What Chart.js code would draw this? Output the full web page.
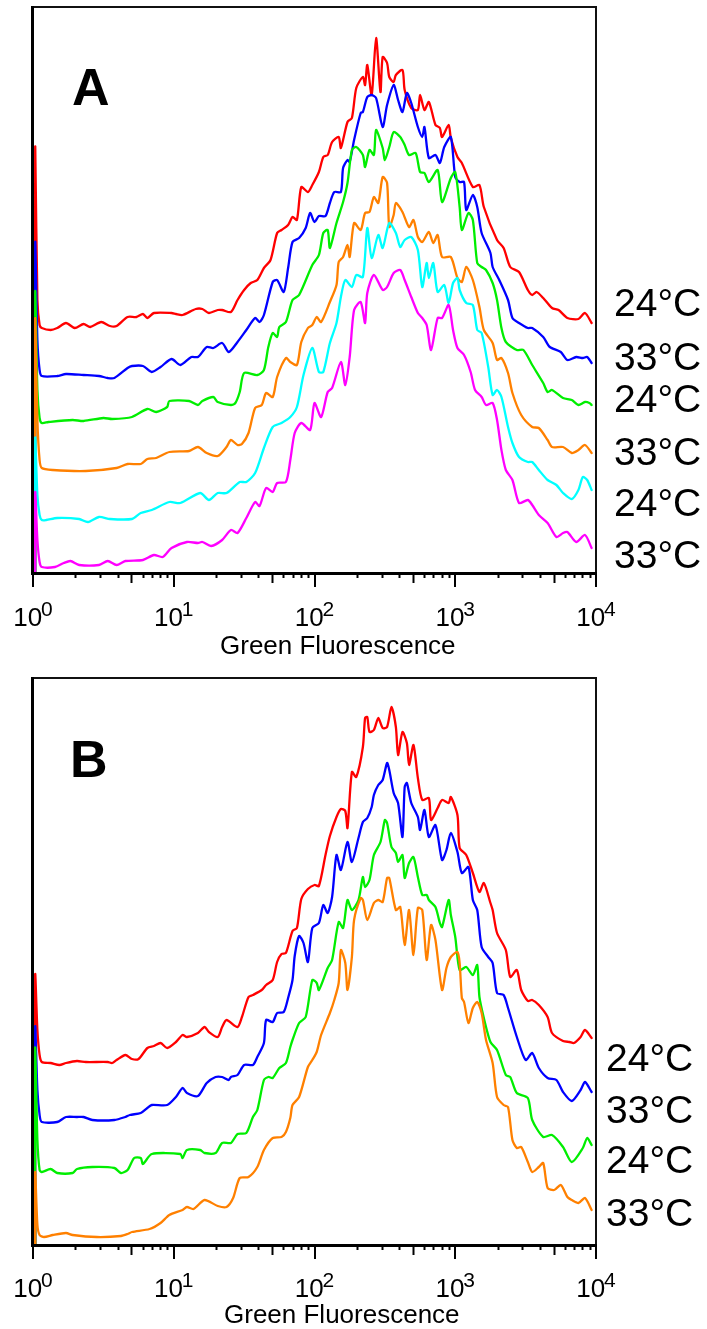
<!DOCTYPE html>
<html>
<head>
<meta charset="utf-8">
<script src="https://cdn.jsdelivr.net/npm/chart.js@4.4.1/dist/chart.umd.min.js"></script>
<style>
  html, body { margin: 0; padding: 0; background: #fff; }
  body { width: 707px; height: 1329px; position: relative; overflow: hidden; }
  canvas { position: absolute; left: 0; }
  #chartA { top: 0; }
  #chartB { top: 665px; }
</style>
</head>
<body>
<canvas id="chartA" width="707" height="665"></canvas>
<canvas id="chartB" width="707" height="664"></canvas>
<script>
// Log-scale fluorescence histograms: 256 channels over 4 decades (64 channels per decade).
// Each pair is [channel, displayed height]; traces are shown as an offset overlay.

// Panel A
const histA1 = [[1,0],[1,425],[2,273],[3,248],[4,245],[8,243],[11,245],[15,250],[19,245],[23,249],[26,246],[31,251],[35,247],[38,247],[43,256],[47,256],[50,259],[52,255],[55,260],[63,260],[65,259],[68,258],[74,264],[77,264],[80,260],[84,263],[86,263],[90,261],[93,273],[96,283],[99,290],[102,293],[105,305],[108,313],[111,340],[113,343],[116,348],[118,356],[120,353],[122,386],[125,381],[127,388],[130,401],[132,416],[134,418],[136,431],[139,436],[140,425],[143,451],[145,455],[147,485],[150,496],[151,488],[152,508],[154,478],[156,535],[158,481],[159,516],[161,510],[162,496],[164,491],[165,498],[168,503],[169,483],[172,465],[175,463],[176,478],[178,463],[180,471],[183,448],[185,445],[186,436],[189,448],[190,435],[193,416],[195,410],[200,386],[203,388],[205,366],[211,333],[214,325],[217,306],[221,301],[225,283],[227,278],[229,281],[232,275],[236,265],[239,263],[243,255],[248,254],[251,260],[254,250]];
const histA2 = [[1,0],[1,330],[2,233],[3,203],[4,197],[11,197],[15,199],[23,198],[30,197],[34,195],[37,195],[43,205],[45,207],[50,207],[54,201],[58,206],[63,214],[67,208],[72,216],[75,216],[79,226],[82,225],[86,230],[89,221],[93,231],[97,243],[101,255],[103,251],[105,258],[109,291],[111,293],[114,281],[116,305],[118,331],[121,335],[124,345],[126,360],[128,351],[130,357],[133,357],[135,370],[137,381],[140,381],[141,405],[143,413],[144,411],[146,433],[149,460],[150,461],[152,476],[154,478],[156,475],[159,446],[161,468],[164,488],[166,473],[168,461],[170,480],[172,470],[175,446],[177,436],[178,446],[180,415],[183,418],[185,410],[187,426],[190,436],[192,396],[194,391],[196,391],[197,363],[200,378],[202,366],[204,340],[208,320],[209,306],[212,293],[216,273],[218,255],[221,250],[225,245],[227,245],[232,236],[235,226],[240,221],[243,213],[247,216],[250,215],[252,216],[254,210]];
const histA3 = [[1,0],[1,281],[2,183],[3,155],[4,150],[7,151],[18,153],[23,152],[32,155],[36,154],[45,156],[52,164],[56,161],[61,166],[62,172],[71,172],[75,168],[77,172],[82,176],[84,171],[90,168],[92,170],[94,181],[96,200],[102,198],[105,203],[107,226],[109,240],[111,236],[112,246],[115,251],[118,273],[121,278],[127,308],[130,318],[132,340],[134,343],[135,325],[138,350],[141,371],[143,390],[145,423],[147,426],[150,418],[151,406],[153,423],[155,418],[156,443],[159,425],[160,413],[162,426],[164,441],[167,436],[169,428],[171,418],[174,420],[176,401],[178,400],[180,391],[184,403],[186,371],[190,395],[192,401],[194,366],[195,343],[198,360],[200,353],[202,310],[204,306],[206,303],[209,290],[211,273],[213,245],[215,231],[220,223],[223,223],[227,208],[232,190],[234,181],[236,183],[241,175],[245,173],[248,168],[251,171],[253,170],[254,168]];
const histA4 = [[1,0],[1,254],[2,153],[3,113],[4,105],[9,103],[24,102],[38,105],[43,109],[49,109],[52,114],[56,115],[62,121],[71,122],[75,126],[79,120],[84,117],[88,126],[90,133],[93,128],[95,129],[98,140],[101,165],[104,168],[106,180],[109,176],[111,196],[115,215],[117,211],[120,208],[122,231],[125,245],[127,248],[129,256],[131,251],[135,271],[138,288],[139,311],[141,316],[143,328],[144,316],[146,350],[149,343],[151,360],[153,361],[155,376],[157,370],[159,396],[161,390],[162,346],[164,358],[165,370],[168,361],[171,346],[173,353],[175,336],[177,331],[180,341],[182,330],[184,338],[186,316],[190,316],[193,295],[195,291],[197,306],[200,293],[203,266],[205,243],[209,230],[211,213],[213,215],[216,200],[218,180],[222,158],[227,146],[230,145],[234,133],[236,126],[241,126],[245,120],[248,123],[251,128],[254,120]];
const histA5 = [[1,0],[1,135],[2,78],[3,58],[4,53],[6,53],[11,55],[21,54],[25,51],[30,56],[35,54],[45,54],[49,60],[54,63],[62,71],[67,70],[76,80],[80,73],[84,80],[88,80],[94,91],[97,91],[101,100],[105,125],[109,146],[113,150],[117,156],[120,166],[123,198],[127,225],[130,201],[132,201],[135,230],[138,250],[140,276],[142,293],[145,286],[147,298],[150,296],[152,345],[154,315],[157,338],[159,325],[162,350],[165,340],[167,326],[169,333],[172,336],[175,323],[177,286],[179,310],[180,295],[182,310],[184,281],[187,288],[189,270],[191,290],[193,295],[194,283],[197,270],[200,268],[202,243],[204,240],[207,206],[209,178],[211,183],[213,176],[216,146],[218,130],[221,116],[225,111],[227,111],[230,103],[234,93],[238,88],[241,80],[245,74],[248,83],[250,96],[252,93],[254,83]];
const histA6 = [[1,0],[1,81],[2,33],[3,11],[4,6],[10,6],[14,10],[17,12],[21,8],[30,8],[34,12],[38,8],[42,12],[50,13],[55,18],[59,16],[63,25],[70,31],[75,30],[77,31],[81,27],[86,33],[90,43],[93,40],[97,55],[101,71],[103,67],[106,85],[109,81],[111,90],[115,91],[117,113],[119,140],[122,150],[126,143],[128,170],[131,156],[134,181],[136,185],[140,211],[142,188],[144,216],[146,263],[149,271],[151,250],[152,280],[155,298],[159,283],[161,286],[164,300],[167,303],[169,293],[172,276],[175,260],[177,255],[179,248],[181,223],[184,255],[186,255],[189,268],[191,243],[193,225],[196,218],[199,201],[201,183],[204,176],[206,168],[209,170],[211,153],[213,123],[215,103],[218,93],[221,70],[225,73],[227,68],[230,58],[234,50],[238,36],[241,40],[243,41],[247,31],[251,38],[254,25]];

// Panel B
const histB1 = [[1,0],[1,270],[2,215],[3,190],[4,183],[8,182],[12,180],[15,182],[20,184],[24,183],[34,183],[36,182],[38,185],[42,190],[45,186],[48,186],[52,197],[55,199],[58,202],[61,197],[65,203],[68,210],[70,208],[75,212],[78,218],[80,213],[84,208],[86,218],[88,225],[93,218],[95,228],[98,248],[100,250],[104,255],[106,260],[109,265],[111,283],[113,291],[115,292],[118,314],[120,317],[122,346],[125,356],[128,360],[130,359],[133,390],[135,409],[138,428],[140,436],[142,434],[143,417],[145,473],[147,468],[150,498],[151,527],[152,528],[153,513],[155,515],[157,527],[159,517],[161,518],[163,538],[165,518],[166,490],[168,513],[170,502],[171,480],[173,500],[175,467],[177,445],[180,447],[181,425],[184,437],[186,445],[189,442],[190,448],[193,430],[194,397],[197,390],[200,372],[203,353],[205,362],[208,342],[209,335],[211,312],[215,295],[217,268],[220,275],[222,255],[225,244],[227,245],[230,240],[234,228],[236,212],[241,204],[244,203],[246,202],[249,208],[251,215],[254,207]];
const histB2 = [[1,0],[1,218],[2,155],[3,130],[4,123],[11,123],[15,128],[20,128],[23,128],[27,125],[37,125],[42,128],[44,130],[49,132],[52,137],[54,140],[61,140],[65,148],[68,157],[70,152],[75,149],[79,162],[83,168],[86,168],[89,165],[90,168],[93,170],[96,180],[100,180],[102,188],[105,202],[106,225],[109,223],[111,232],[114,233],[116,247],[118,265],[119,289],[121,309],[123,302],[125,283],[127,317],[130,322],[132,340],[134,332],[136,348],[138,390],[140,375],[143,403],[145,383],[148,407],[150,423],[152,427],[154,438],[155,450],[157,460],[159,465],[161,482],[162,475],[164,452],[166,442],[168,408],[169,458],[170,462],[172,442],[175,428],[176,415],[178,435],[180,408],[183,420],[186,385],[188,395],[190,412],[193,393],[195,372],[198,378],[200,345],[202,335],[204,298],[207,288],[209,282],[211,252],[214,250],[216,237],[220,208],[224,185],[227,192],[230,177],[234,167],[238,165],[241,153],[245,144],[249,155],[251,163],[254,153]];
const histB3 = [[1,0],[1,197],[2,105],[3,75],[4,73],[8,76],[11,72],[18,72],[20,76],[27,78],[37,77],[40,72],[43,75],[46,87],[49,87],[50,81],[54,91],[67,91],[68,87],[70,95],[76,95],[78,92],[83,92],[86,102],[90,102],[93,111],[97,112],[100,128],[102,135],[105,165],[107,168],[109,167],[112,177],[115,182],[117,198],[118,205],[121,222],[124,228],[127,265],[129,262],[130,255],[134,277],[136,285],[139,323],[141,317],[143,345],[145,335],[148,345],[150,368],[151,358],[153,365],[155,390],[158,403],[160,425],[161,422],[163,398],[165,392],[166,383],[168,390],[169,367],[171,382],[173,388],[175,368],[177,350],[179,350],[180,345],[183,338],[185,322],[186,318],[189,345],[190,330],[192,308],[194,275],[197,278],[200,270],[202,280],[203,248],[205,227],[208,203],[211,195],[215,170],[217,168],[220,152],[225,147],[227,125],[232,108],[236,110],[241,98],[245,83],[250,97],[252,107],[254,100]];
const histB4 = [[1,0],[1,73],[2,20],[3,10],[5,8],[9,10],[15,12],[18,10],[29,8],[40,9],[43,11],[45,13],[53,16],[58,22],[62,30],[68,35],[70,38],[73,36],[78,45],[84,39],[88,38],[91,47],[94,67],[98,68],[102,78],[105,95],[109,107],[113,108],[115,113],[117,127],[118,140],[121,148],[125,178],[127,185],[129,193],[131,210],[135,232],[137,245],[139,262],[140,295],[142,282],[143,255],[145,288],[146,325],[149,347],[150,345],[152,325],[155,342],[157,345],[159,343],[161,367],[162,367],[165,335],[167,338],[169,300],[171,335],[173,290],[175,337],[177,335],[179,285],[181,320],[183,305],[186,255],[188,277],[190,288],[193,293],[194,282],[195,247],[196,243],[198,222],[200,237],[202,243],[204,232],[206,205],[209,182],[211,148],[214,140],[216,138],[218,105],[220,97],[222,98],[225,83],[227,73],[230,78],[232,82],[234,57],[237,55],[240,60],[243,48],[245,45],[248,42],[251,47],[254,35]];

const tempLabelsA = ['24°C', '33°C', '24°C', '33°C', '24°C', '33°C'];
const tempLabelsB = ['24°C', '33°C', '24°C', '33°C'];
const seriesColors = ['#ff0000', '#0000ff', '#00ee00', '#ff8000', '#00ffff', '#ff00ff'];
const decadeTicks = [1, 10, 100, 1000, 10000];
const axisTitle = 'Green Fluorescence';

const CHANNELS_PER_DECADE = 64;
const FONT = '"Liberation Sans", Arial, Helvetica, sans-serif';

function toPoints(hist) {
  return hist.map(([ch, n]) => ({ x: Math.pow(10, ch / CHANNELS_PER_DECADE), y: n }));
}

// Frame, log axis with decade/minor ticks, superscript tick labels, titles and trace labels
function decorPlugin(o) {
  return {
    id: 'decor',
    afterDatasetsDraw(chart) {
      const { ctx, chartArea: a, scales: { x } } = chart;
      ctx.save();
      // top and right frame
      ctx.strokeStyle = '#111';
      ctx.lineWidth = 2;
      ctx.beginPath();
      ctx.moveTo(a.left, a.top);
      ctx.lineTo(a.right, a.top);
      ctx.lineTo(a.right, a.bottom);
      ctx.stroke();
      // left and bottom axis
      ctx.strokeStyle = '#000';
      ctx.lineWidth = 3;
      ctx.beginPath();
      ctx.moveTo(a.left - 0.5, a.top - 1);
      ctx.lineTo(a.left - 0.5, a.bottom + 1);
      ctx.stroke();
      ctx.beginPath();
      ctx.moveTo(a.left - 2, a.bottom + 0.5);
      ctx.lineTo(a.right + 1, a.bottom + 0.5);
      ctx.stroke();
      // ticks
      ctx.lineWidth = 2;
      decadeTicks.forEach((d, i) => {
        const px = Math.round(x.getPixelForValue(d));
        ctx.beginPath();
        ctx.moveTo(px, a.bottom);
        ctx.lineTo(px, a.bottom + 14);
        ctx.stroke();
        if (i < decadeTicks.length - 1) {
          for (let m = 2; m <= 9; m++) {
            const mx = Math.round(x.getPixelForValue(d * m)) + 0.5;
            const len = m === 5 ? 10 : 5;
            ctx.beginPath();
            ctx.moveTo(mx, a.bottom);
            ctx.lineTo(mx, a.bottom + len);
            ctx.stroke();
          }
        }
      });
      // tick labels 10^n
      ctx.fillStyle = '#000';
      ctx.textBaseline = 'alphabetic';
      ctx.textAlign = 'left';
      decadeTicks.forEach((d) => {
        const px = x.getPixelForValue(d);
        const exp = String(Math.round(Math.log10(d)));
        ctx.font = '26px ' + FONT;
        const wb = ctx.measureText('10').width;
        ctx.font = '21px ' + FONT;
        const ws = ctx.measureText(exp).width;
        const gap = -1;
        const x0 = px - (wb + gap + ws) / 2;
        ctx.font = '26px ' + FONT;
        ctx.fillText('10', x0, o.tickY);
        ctx.font = '21px ' + FONT;
        ctx.fillText(exp, x0 + wb + gap, o.tickY - 10);
      });
      // axis title
      ctx.font = '26px ' + FONT;
      ctx.fillText(axisTitle, o.titleX, o.titleY);
      // panel letter
      ctx.font = 'bold 52px ' + FONT;
      ctx.fillText(o.letter, o.letterX, o.letterY);
      // trace labels
      ctx.font = '39px ' + FONT;
      o.labels.forEach((t, i) => ctx.fillText(t, o.labelX, o.labelY[i]));
      ctx.restore();
    }
  };
}

function makeChart(id, hists, yMax, pad, decor) {
  const n = hists.length;
  return new Chart(document.getElementById(id), {
    type: 'line',
    data: {
      datasets: hists.map((h, i) => ({
        data: toPoints(h),
        borderColor: seriesColors[i],
        borderWidth: 2.3,
        pointRadius: 0,
        tension: 0.25,
        fill: false,
        borderJoinStyle: 'round',
        borderCapStyle: 'round',
        order: n - 1 - i
      }))
    },
    options: {
      responsive: false,
      animation: false,
      devicePixelRatio: 1,
      layout: { padding: pad },
      plugins: { legend: { display: false }, tooltip: { enabled: false } },
      scales: {
        x: { type: 'logarithmic', min: 1, max: 10000, display: false },
        y: { type: 'linear', min: 0, max: yMax, display: false }
      }
    },
    plugins: [decorPlugin(decor)]
  });
}

makeChart('chartA', [histA1, histA2, histA3, histA4, histA5, histA6], 566,
  { left: 33, top: 7, right: 111, bottom: 92 },
  { tickY: 626, titleX: 220, titleY: 654, letter: 'A', letterX: 72, letterY: 105,
    labels: tempLabelsA, labelX: 614, labelY: [316, 370, 412, 465, 516, 568] });

makeChart('chartB', [histB1, histB2, histB3, histB4], 567,
  { left: 33, top: 13, right: 111, bottom: 84 },
  { tickY: 632, titleX: 224, titleY: 658, letter: 'B', letterX: 70, letterY: 112,
    labels: tempLabelsB, labelX: 606, labelY: [406, 458, 508, 561] });
</script>
</body>
</html>
